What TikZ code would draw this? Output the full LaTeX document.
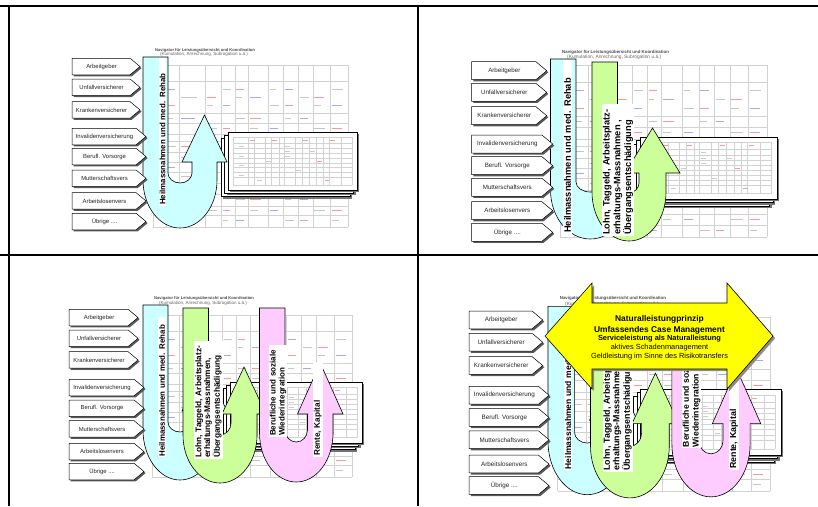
\documentclass[tikz,border=0pt]{standalone}
\usepackage{fontspec}
\setmainfont{Liberation Sans}
\definecolor{ublue}{HTML}{CCFFFF}
\definecolor{ugreen}{HTML}{CCFF99}
\definecolor{upink}{HTML}{FFCCFF}
\definecolor{uyellow}{HTML}{FFFF00}
\tikzset{
  gridframe/.style={line width=2.2pt, draw=black},
  tline/.style={draw=gray!35, line width=0.4pt},
  lblbox/.style={draw=black, fill=white, line width=0.5pt, line join=miter},
  lblshadow/.style={fill=black!65},
  lbltext/.style={inner sep=0pt, text=black!85},
  uline/.style={draw=black, line width=0.6pt, line join=miter},
  vbox/.style={rotate=90, fill=white, inner sep=1pt, align=left},
  cardbox/.style={draw=black, fill=white, line width=0.6pt},
  cardshadow/.style={fill=black!55},
  ttl/.style={inner sep=0pt, anchor=west},
  ytext/.style={inner sep=0pt, text=black},
}
\newcommand\LabelName[1]{\ifcase#1\or Arbeitgeber\or Unfallversicherer\or Krankenversicherer\or Invalidenversicherung\or Berufl. Vorsorge\or Mutterschaftsvers\or Arbeitslosenvers\or Übrige ....\fi}
% prefix, x, height, w short, w long, font size, tops
\newcommand\labelcol[7]{%
  \foreach \yy [count=\i] in {#7}{%
    \pgfmathsetmacro\ww{\i<4 ? #4 : #5}%
    \pgfmathsetmacro\pl{0.6*#3}%
    \pgfmathsetmacro\bw{\ww-\pl}%
    \pgfmathsetmacro\hh{#3/2}%
    \fill[lblshadow] ({#2+1.6},{\yy+1.6}) -- ++(\bw,0) -- ++(\pl,\hh) -- ++(-\pl,\hh) -- ++(-\bw,0) -- cycle;
    \draw[lblbox] (#2,\yy) -- ++(\bw,0) -- ++(\pl,\hh) -- ++(-\pl,\hh) -- ++(-\bw,0) -- cycle;
    \node[lbltext, font=\fontsize{#6}{#6}\selectfont] (#1\i) at ({#2+\bw/2+0.5},{\yy+\hh}) {\LabelName{\i}};
  }%
}
\pgfkeys{/uarr/.is family}
\pgfkeys{/uarr/.cd, L/.store in=\uL, W/.store in=\uW, Wr/.store in=\uWr, T/.store in=\uT, C/.store in=\uC, B/.store in=\uB, R/.store in=\uR, HB/.store in=\uHB, HE/.store in=\uHE, TY/.store in=\uTY, Ci/.store in=\uCi, Bi/.store in=\uBi, col/.store in=\ucol}
\newcommand\uarrow[1]{%
  \pgfkeys{/uarr/.cd,#1}%
  \pgfmathsetmacro\uM{(\uL+\uR)/2}%
  \pgfmathsetmacro\uRX{(\uR-\uL)/2}%
  \pgfmathsetmacro\uRY{\uB-\uC}%
  \pgfmathsetmacro\uiL{\uL+\uW}%
  \pgfmathsetmacro\uiR{\uR-\uWr}%
  \pgfmathsetmacro\uiM{(\uiL+\uiR)/2}%
  \pgfmathsetmacro\uiRX{(\uiR-\uiL)/2}%
  \pgfmathsetmacro\uiRY{\uBi-\uCi}%
  \pgfmathsetmacro\uTX{(\uiR+\uR)/2}%
  \def\uK{0.5523}%
  \path[uline, fill=\ucol] (\uL,\uT) -- (\uL,\uC)
    .. controls (\uL,{\uC+\uK*\uRY}) and ({\uM-\uK*\uRX},\uB) .. (\uM,\uB)
    .. controls ({\uM+\uK*\uRX},\uB) and (\uR,{\uC+\uK*\uRY}) .. (\uR,\uC)
    -- (\uR,\uHB) -- ({\uR+\uHE},\uHB) -- (\uTX,\uTY) -- ({\uiR-\uHE},\uHB) -- (\uiR,\uHB)
    -- (\uiR,\uCi) .. controls (\uiR,{\uCi+\uK*\uiRY}) and ({\uiM+\uK*\uiRX},\uBi) .. (\uiM,\uBi)
    .. controls ({\uiM-\uK*\uiRX},\uBi) and (\uiL,{\uCi+\uK*\uiRY}) .. (\uiL,\uCi)
    -- (\uiL,\uT) -- cycle;
}
% x y w h step
\newcommand\cardstack[5]{%
  \foreach \n in {2,1,0}{%
    \pgfmathsetmacro\cx{#1-\n*#5}\pgfmathsetmacro\cy{#2+\n*#5}%
    \fill[cardshadow] ({\cx+2},{\cy+2}) rectangle ++(#3,#4);
    \path[cardbox] (\cx,\cy) rectangle ++(#3,#4);
  }%
  \pgfmathsetmacro\gx{#1+0.04*#3}\pgfmathsetmacro\gy{#2+0.09*#4}\pgfmathsetmacro\gw{0.92*#3}\pgfmathsetmacro\gh{0.82*#4}%
  \begin{scope}[shift={(\gx,\gy)}, xscale=\gw, yscale=\gh]
    \foreach \x in {0,0.13,0.18,0.27,0.32,0.39,0.43,0.52,0.58,0.64,0.70,0.76,0.81,0.91,1} \draw[tline] (\x,0) -- (\x,1);
    \foreach \y in {0,0.13,0.24,0.34,0.44,0.54,0.64,0.74,0.84,1} \draw[tline] (0,\y) -- (1,\y);
    \foreach \x/\y/\cl in {0.14/0.06/red, 0.33/0.06/red, 0.59/0.06/red, 0.82/0.06/red, 0.44/0.2/gray, 0.44/0.3/gray, 0.44/0.4/gray, 0.71/0.5/red, 0.05/0.2/gray, 0.05/0.4/gray, 0.05/0.6/gray, 0.05/0.8/gray, 0.28/0.5/gray, 0.53/0.7/gray, 0.77/0.9/red, 0.2/0.9/gray, 0.65/0.3/gray}
      \draw[\cl!40, line width=0.6pt] (\x,\y) -- ({\x+0.04},\y);
  \end{scope}
}
% prefix x y w h ytitle1 ytitle2 fontscale
\newcommand\bgtable[8]{%
  \pgfmathsetmacro\tfa{4.1*#8}\pgfmathsetmacro\tfb{4.5*#8}%
  \begin{scope}[shift={(#2,#3)}, xscale=#4, yscale=#5]
    \foreach \x in {0,0.07,0.135,0.27,0.35,0.42,0.49,0.59,0.67,0.745,0.82,0.91,1} \draw[tline] (\x,0) -- (\x,1);
    \foreach \y in {0,0.1,0.3,0.36,0.43,0.47,0.54,0.6,0.66,0.73,0.8,0.87,0.93,1} \draw[tline] (0,\y) -- (1,\y);
    \foreach \xa/\xb [count=\i] in {0.07/0.135,0.135/0.27,0.27/0.35,0.35/0.42,0.42/0.49,0.49/0.59,0.59/0.67,0.67/0.745,0.745/0.82,0.82/0.91,0.91/1}{%
      \foreach \yy [count=\j] in {0.15,0.2,0.25,0.33,0.39,0.5,0.57,0.63,0.69,0.76,0.83,0.9,0.96}{%
        \pgfmathtruncatemacro\colidx{mod(\i*5+\j*3,7)}%
        \ifcase\colidx
          \draw[red!40, line width=0.7pt] ({\xa+0.008},\yy) -- ({\xa+0.008+0.55*(\xb-\xa)},\yy);
        \or
          \draw[blue!35, line width=0.7pt] ({\xa+0.008},\yy) -- ({\xa+0.008+0.55*(\xb-\xa)},\yy);
        \or
          \draw[gray!45, line width=0.7pt] ({\xa+0.008},\yy) -- ({\xa+0.008+0.6*(\xb-\xa)},\yy);
        \or
          \draw[gray!45, line width=0.7pt] ({\xa+0.008},\yy) -- ({\xa+0.008+0.4*(\xb-\xa)},\yy);
        \else\fi
      }%
    }%
  \end{scope}
  \node[ttl, text=black!70, font=\fontsize{\tfa}{\tfa}\selectfont\bfseries] (#1a) at ({#2+2},#6) {Navigator für Leistungsübersicht und Koordination};
  \node[ttl, text=black!60, font=\fontsize{\tfb}{\tfb}\selectfont] (#1b) at ({#2+7},#7) {(Kumulation, Anrechnung, Subrogation u.ä.)};
}
% name cx ybottom length font text
\newcommand\vtext[6]{\node[vbox, font={#5}, text width=#4pt, anchor=west] (#1) at (#2,#3) {#6};}

\newcommand\panelThree[1]{%
  \bgtable{#1t}{152}{315}{200}{162}{298}{303}{1}
  \cardstack{230}{382}{132}{61}{3.3}
  \uarrow{L=143,W=25,Wr=25,T=305,C=430,B=480,R=217,HB=411,HE=10,TY=364,Ci=422,Bi=432,col=ublue}
  \uarrow{L=183,W=25.5,Wr=26,T=308,C=435,B=483,R=257,HB=414,HE=9,TY=367,Ci=423,Bi=435,col=ugreen}
  \uarrow{L=259.5,W=25.5,Wr=25.5,T=308,C=433,B=482,R=333,HB=414,HE=10,TY=363,Ci=430,Bi=442,col=upink}
  \vtext{#1b}{162}{457.5}{138}{\fontsize{7.9}{9}\selectfont\bfseries}{Heilmassnahmen und med. Rehab}
  \vtext{#1g}{208.5}{459}{116}{\fontsize{8.3}{8.8}\selectfont\bfseries}{Lohn, Taggeld, Arbeitsplatz-\\erhaltungs-Massnahmen,\\Übergangsentschädigung}
  \vtext{#1p}{278}{437}{90}{\fontsize{8}{9}\selectfont\bfseries}{Berufliche und soziale\\Wiederintegration}
  \vtext{#1r}{317.8}{457}{93}{\fontsize{8.2}{9}\selectfont\bfseries}{Rente, Kapital}
  \labelcol{#1l}{69}{16.5}{69}{75}{5.9}{309.3,330,351.7,379.3,400,420.7,443.3,463.3}
}

\begin{document}
\begin{tikzpicture}[x=1pt,y=-1pt]
\fill[white] (0,0) rectangle (818,506);
\useasboundingbox (0,0) rectangle (818,506);

% ---------- panel 1 ----------
\bgtable{ta}{153}{65}{195}{162}{50}{54.5}{1}
\cardstack{228}{132}{129}{58}{3.3}
\uarrow{L=143,W=25,Wr=25,T=57,C=180,B=228,R=217,HB=162,HE=10,TY=115,Ci=173,Bi=183,col=ublue}
\vtext{ab}{162.5}{206}{146}{\fontsize{7.9}{9}\selectfont\bfseries}{Heilmassnahmen und med. Rehab}
\labelcol{al}{72}{16.5}{68}{74}{5.9}{58.3,79,101.7,128.3,148.3,170,192.7,213.3}

% ---------- panel 2 ----------
\bgtable{tb}{560}{65}{207}{172}{52}{57.5}{1.07}
\cardstack{640}{137}{137}{62}{3.7}
\uarrow{L=550.5,W=25.5,Wr=25.5,T=59,C=190,B=239,R=630,HB=171,HE=10,TY=121,Ci=182,Bi=192,col=ublue}
\vtext{bb}{567.5}{234}{172}{\fontsize{9.3}{10.5}\selectfont\bfseries}{Heilmassnahmen und med. Rehab}
\uarrow{L=592,W=25.5,Wr=27,T=62,C=192,B=241,R=666,HB=173,HE=14,TY=128,Ci=183,Bi=193,col=ugreen}
\vtext{bg}{618}{236}{130}{\fontsize{9.3}{10.8}\selectfont\bfseries}{Lohn, Taggeld, Arbeitsplatz-\\erhaltungs-Massnahmen ,\\Übergangsentschädigung}
\labelcol{bl}{471.7}{18}{75}{81}{6.2}{61.7,83.3,106.7,135,156.7,178.3,201.7,223.3}

% ---------- panel 3 ----------
\panelThree{c}

% ---------- panel 4 ----------
\begin{scope}[shift={(395.8,-21.8)}, xscale=1.064, yscale=1.076, transform shape]
  \panelThree{d}
\end{scope}
\fill[black!45] (547.2,338.2) -- (594.2,285.2) -- (594.2,305.2) -- (729.2,305.2) -- (729.2,285.2) -- (775.2,338.2) -- (729.2,391.2) -- (729.2,371.2) -- (594.2,371.2) -- (594.2,391.2) -- cycle;
\path[uline, fill=uyellow] (545,336) -- (592,283) -- (592,303) -- (727,303) -- (727,283) -- (773,336) -- (727,389) -- (727,369) -- (592,369) -- (592,389) -- cycle;
\node[ytext, font=\fontsize{8.4}{9}\selectfont\bfseries] (ya) at (659.5,319.3) {Naturalleistungprinzip};
\node[ytext, font=\fontsize{8.4}{9}\selectfont\bfseries] (yb) at (659.5,330) {Umfassendes Case Management};
\node[ytext, font=\fontsize{7.4}{8}\selectfont\bfseries] (yc) at (659.5,339) {Serviceleistung als Naturalleistung};
\node[ytext, font=\fontsize{7.4}{8}\selectfont] (yd) at (659.5,347.7) {aktives Schadenmanagement};
\node[ytext, font=\fontsize{7.4}{8}\selectfont] (ye) at (659.5,356.5) {Geldleistung im Sinne des Risikotransfers};

% ---------- grid lines ----------
\draw[gridframe] (0,6.2) -- (818,6.2);
\draw[gridframe] (0,254.6) -- (818,254.6);
\draw[gridframe] (8.7,6.2) -- (8.7,506);
\draw[gridframe] (417.8,6.2) -- (417.8,506);
\end{tikzpicture}
\end{document}
